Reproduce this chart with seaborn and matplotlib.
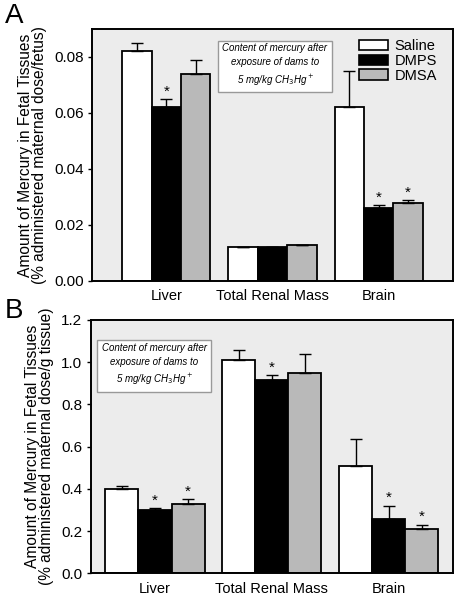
import pandas as pd
import matplotlib.pyplot as plt
import seaborn as sns

tissues = ['Liver', 'Total Renal Mass', 'Brain']
treatments = ['Saline', 'DMPS', 'DMSA']
colors = ['white', 'black', '#b9b9b9']

# panel A: % administered dose per fetus
a_mean = {'Saline': [0.082, 0.0120, 0.062],
          'DMPS':   [0.062, 0.0120, 0.026],
          'DMSA':   [0.074, 0.0128, 0.028]}
a_err = {'Saline': [0.003, 0.0002, 0.013],
         'DMPS':   [0.003, 0.0001, 0.001],
         'DMSA':   [0.005, 0.0002, 0.001]}
a_star = {'Saline': [0, 0, 0], 'DMPS': [1, 0, 1], 'DMSA': [0, 0, 1]}

# panel B: % administered dose per g tissue
b_mean = {'Saline': [0.40, 1.01, 0.51],
          'DMPS':   [0.30, 0.915, 0.255],
          'DMSA':   [0.33, 0.95, 0.21]}
b_err = {'Saline': [0.012, 0.05, 0.125],
         'DMPS':   [0.01, 0.025, 0.065],
         'DMSA':   [0.022, 0.09, 0.02]}
b_star = {'Saline': [0, 0, 0], 'DMPS': [1, 1, 1], 'DMSA': [1, 0, 1]}

plt.rcParams['font.family'] = ['Liberation Sans', 'DejaVu Sans']
fig = plt.figure(figsize=(4.58, 5.99), dpi=100)
axA = fig.add_axes([0.2009, 0.5309, 0.788, 0.4207])
axB = fig.add_axes([0.198, 0.0429, 0.791, 0.4229])


def panel(ax, mean, err, star, ylim, ticks, fmt, xlim, width, ylabel, legend):
    rows = []
    for t in treatments:
        for i, tis in enumerate(tissues):
            rows.append({'tissue': tis, 'treatment': t, 'value': mean[t][i]})
    df = pd.DataFrame(rows)
    sns.barplot(data=df, x='tissue', y='value', hue='treatment', order=tissues,
                hue_order=treatments, palette=colors, width=width, gap=0,
                edgecolor='black', linewidth=1.3, errorbar=None, ax=ax,
                legend=legend)
    span = ylim[1] - ylim[0]
    for c, t in zip(ax.containers, treatments):
        for i, bar in enumerate(c):
            x = bar.get_x() + bar.get_width() / 2
            h = bar.get_height()
            ax.errorbar(x, h, yerr=[[0], [err[t][i]]], color='black', lw=1,
                        capsize=4, capthick=1)
            if star[t][i]:
                ax.text(x, h + err[t][i] + span * 0.002, '*', ha='center',
                        va='bottom', fontsize=11)
    ax.set_facecolor('#ececec')
    ax.set_ylim(*ylim)
    ax.set_xlim(*xlim)
    ax.set_yticks(ticks)
    ax.set_yticklabels([fmt.format(v) for v in ticks], fontsize=11)
    ax.tick_params(axis='x', length=0, labelsize=10.5, pad=6)
    ax.tick_params(axis='y', length=3, direction='out', width=1, pad=3)
    ax.set_xlabel('')
    ax.set_ylabel(ylabel, fontsize=11.2, linespacing=0.95, labelpad=5)
    for s in ax.spines.values():
        s.set_linewidth(1.4)
        s.set_color('black')


panel(axA, a_mean, a_err, a_star, (0, 0.09), [0, 0.02, 0.04, 0.06, 0.08],
      '{:.2f}', (-0.70, 2.70), 0.83,
      'Amount of Mercury in Fetal Tissues\n(% administered maternal dose/fetus)', True)
panel(axB, b_mean, b_err, b_star, (0, 1.2), [0, 0.2, 0.4, 0.6, 0.8, 1.0, 1.2],
      '{:.1f}', (-0.55, 2.55), 0.85,
      'Amount of Mercury in Fetal Tissues\n(% administered maternal dose/g tissue)', False)

leg = axA.legend(loc='upper right', bbox_to_anchor=(0.955, 0.96), frameon=False,
                 fontsize=10.5, handlelength=2.0, handleheight=0.7,
                 labelspacing=0.05, handletextpad=0.45, borderaxespad=0,
                 borderpad=0)
for h in leg.legend_handles:
    h.set_edgecolor('black')
    h.set_linewidth(1.2)

note = 'Content of mercury after\nexposure of dams to\n5 mg/kg CH$_3$Hg$^+$'
box = dict(boxstyle='square,pad=0.45', facecolor='white', edgecolor='#999999', lw=1)
axA.text(0.507, 0.855, note, transform=axA.transAxes, ha='center', va='center',
         fontsize=7, style='italic', linespacing=1.5, bbox=box)
axB.text(0.175, 0.822, note, transform=axB.transAxes, ha='center', va='center',
         fontsize=7, style='italic', linespacing=1.5, bbox=box)

fig.text(0.01, 0.995, 'A', fontsize=20, va='top', ha='left')
fig.text(0.01, 0.502, 'B', fontsize=20, va='top', ha='left')

fig.savefig('out.png', dpi=100)
